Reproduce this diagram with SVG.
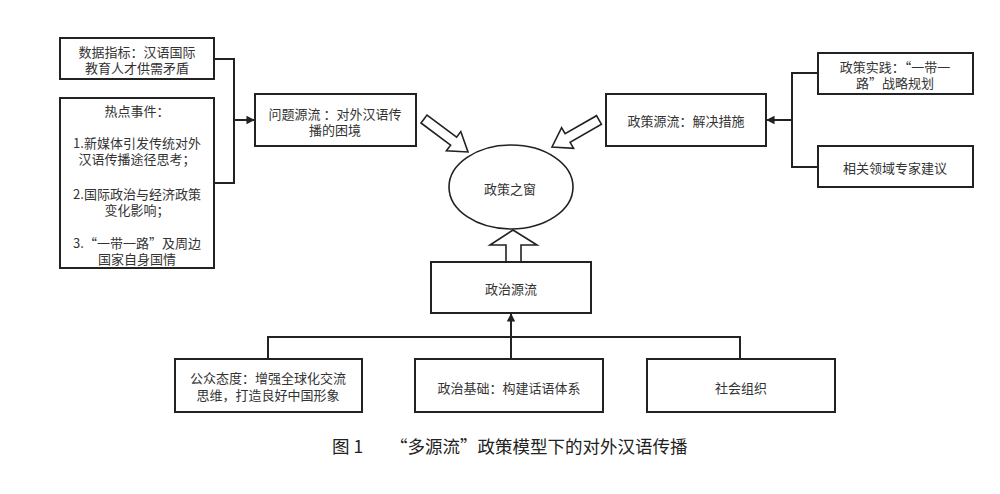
<svg xmlns="http://www.w3.org/2000/svg" width="1000" height="494" viewBox="0 0 1000 494">
<style>
.box{fill:#fff;stroke:#222;stroke-width:2}
.ln{fill:none;stroke:#222;stroke-width:2}
.harrow{fill:#fff;stroke:#222;stroke-width:1.6;stroke-linejoin:miter}
text{font-family:"Noto Sans CJK SC","Noto Sans",sans-serif;font-size:13px;fill:#333;text-anchor:middle;dominant-baseline:central}
.cap{font-size:17.5px;fill:#222;text-anchor:start}
</style>
<defs>
<marker id="ah" viewBox="0 0 10 10" refX="9" refY="5" markerWidth="6" markerHeight="6" markerUnits="userSpaceOnUse" orient="auto" style="overflow:visible">
<path d="M0,0 L10,5 L0,10 Z" fill="#222" transform="scale(1.4) translate(-2.6,-1.4)"/>
</marker>
</defs>
<rect width="1000" height="494" fill="#fff"/>

<g id="connectors">
<polyline class="ln" points="214,59 234,59 234,183 214,183"/>
<line class="ln" x1="234" y1="120" x2="254" y2="120" marker-end="url(#ah)"/>
<polyline class="ln" points="818,73 792,73 792,167 818,167"/>
<line class="ln" x1="792" y1="120" x2="767" y2="120" marker-end="url(#ah)"/>
<polyline class="ln" points="268,359 268,337 740,337 740,359"/>
<line class="ln" x1="511" y1="359" x2="511" y2="314" marker-end="url(#ah)"/>
<polygon class="harrow" points="421,123 427,115 456.6,137.2 460.8,131.6 468,152 446.4,150.8 450.6,145.2"/>
<polygon class="harrow" points="601.5,124.3 596.5,115.7 565.1,133.7 561.6,127.6 552,147 573.6,148.4 570.1,142.3"/>
<polygon class="harrow" points="513,230 537,245 521,245 521,263 506,263 506,245 490,245"/>
</g>

<g id="n-data">
<rect class="box" x="60" y="38" width="154" height="41"/>
<text><tspan x="137" y="51">数据指标：汉语国际</tspan><tspan x="137" y="67">教育人才供需矛盾</tspan></text>
</g>

<g id="n-hot">
<rect class="box" x="60" y="98" width="154" height="170"/>
<text><tspan x="137" y="110">热点事件：</tspan><tspan x="137" y="142">1.新媒体引发传统对外</tspan><tspan x="137" y="158">汉语传播途径思考；</tspan><tspan x="137" y="193">2.国际政治与经济政策</tspan><tspan x="137" y="209">变化影响；</tspan><tspan x="137" y="242">3.“一带一路”及周边</tspan><tspan x="137" y="258">国家自身国情</tspan></text>
</g>

<g id="n-problem">
<rect class="box" x="255" y="94" width="161" height="52"/>
<text><tspan x="335" y="113">问题源流 ：对外汉语传</tspan><tspan x="335" y="129">播的困境</tspan></text>
</g>

<g id="n-window">
<ellipse cx="511" cy="187" rx="62" ry="42" fill="#fff" stroke="#222" stroke-width="1.6"/>
<text x="510" y="188">政策之窗</text>
</g>

<g id="n-policy">
<rect class="box" x="606" y="94" width="160" height="52"/>
<text x="686" y="120">政策源流：解决措施</text>
</g>

<g id="n-practice">
<rect class="box" x="818" y="53" width="155" height="41"/>
<text><tspan x="895" y="66">政策实践：“一带一</tspan><tspan x="895" y="82">路”战略规划</tspan></text>
</g>

<g id="n-expert">
<rect class="box" x="818" y="146" width="155" height="41"/>
<text x="895" y="167">相关领域专家建议</text>
</g>

<g id="n-politics">
<rect class="box" x="431" y="262" width="160" height="51"/>
<text x="511" y="288">政治源流</text>
</g>

<g id="n-public">
<rect class="box" x="175" y="359" width="187" height="53"/>
<text><tspan x="268" y="377">公众态度：增强全球化交流</tspan><tspan x="268" y="394">思维，打造良好中国形象</tspan></text>
</g>

<g id="n-basis">
<rect class="box" x="415" y="359" width="188" height="53"/>
<text x="509" y="387">政治基础：构建话语体系</text>
</g>

<g id="n-social">
<rect class="box" x="647" y="359" width="188" height="53"/>
<text x="741" y="387">社会组织</text>
</g>

<g id="caption">
<text class="cap" y="445"><tspan x="332">图 1</tspan><tspan x="390">“多源流”政策模型下的对外汉语传播</tspan></text>
</g>
</svg>
